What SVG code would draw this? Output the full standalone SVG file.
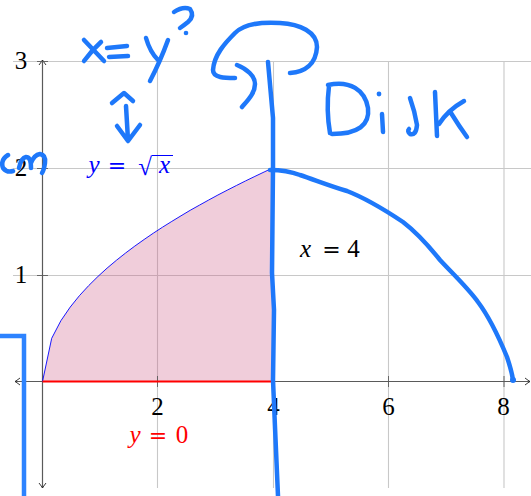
<svg xmlns="http://www.w3.org/2000/svg" width="531" height="496" viewBox="0 0 531 496">
<style>
.grid{stroke:#c8c8c8;stroke-width:1.1;fill:none}
.axis{stroke:#5a5a5a;stroke-width:1.2;fill:none}
.tick{stroke:#5a5a5a;stroke-width:0.9}
.lbl{font-family:"Liberation Serif","DejaVu Serif",serif;font-size:25px;text-anchor:middle}
.it{font-style:italic}
.eq{font-family:"DejaVu Serif","Liberation Serif",serif;font-size:22px}
.ink{stroke:#1e78fa;stroke-width:4.5;fill:none;stroke-linecap:round;stroke-linejoin:round}
</style>
<defs>
<marker id="arr" viewBox="-6 -5 7 10" refX="0" refY="0" markerWidth="7" markerHeight="10" markerUnits="userSpaceOnUse" orient="auto-start-reverse">
<path d="M-5,-3.5 Q-1.5,-0.8 0,0 Q-1.5,0.8 -5,3.5" fill="none" stroke="#222" stroke-width="0.9"/>
</marker>
</defs>
<rect width="531" height="496" fill="#fff"/>
<g id="grid">
<path class="grid" d="M13,61.5 H531 M13,168.5 H531 M13,275.5 H531 M157.5,61 V488 M273.5,61 V488 M388.5,61 V488 M504,61 V488"/>
</g>
<g id="region">
<polygon fill="#cd5884" fill-opacity="0.3" points="42.5,381.5 51.7,338.3 60.9,320.7 70.2,307.1 79.4,295.7 88.7,285.6 97.9,276.5 107.1,268.1 116.4,260.3 125.6,253 134.8,246.1 144.1,239.5 153.3,233.2 162.5,227.2 171.8,221.4 181,215.8 190.2,210.3 199.5,205.1 208.7,200 217.9,195 227.2,190.2 236.4,185.5 245.6,180.9 254.9,176.4 264.1,172 273.3,167.7 273.3,381.5"/>
</g>
<g id="axes">
<line class="axis" x1="15" y1="381.5" x2="530" y2="381.5" marker-start="url(#arr)" marker-end="url(#arr)"/>
<line class="axis" x1="42.5" y1="488" x2="42.5" y2="60" marker-start="url(#arr)" marker-end="url(#arr)"/>
<path class="tick" d="M37,61.5 H48 M37,168.5 H48 M37,275.5 H48 M157.5,376 V387 M273.5,376 V387 M388.5,376 V387 M504,376 V387"/>
</g>
<g id="ticklabels" class="lbl">
<text x="21" y="68.5">3</text>
<text x="21" y="176">2</text>
<text x="21" y="283">1</text>
<text x="157.5" y="414.5">2</text>
<text x="273.5" y="414.5">4</text>
<text x="388.5" y="414.5">6</text>
<text x="503.5" y="414.5">8</text>
</g>
<g id="curve-sqrt">
<polyline fill="none" stroke="#0000ff" stroke-width="0.9" points="42.5,381.5 51.7,338.3 60.9,320.7 70.2,307.1 79.4,295.7 88.7,285.6 97.9,276.5 107.1,268.1 116.4,260.3 125.6,253 134.8,246.1 144.1,239.5 153.3,233.2 162.5,227.2 171.8,221.4 181,215.8 190.2,210.3 199.5,205.1 208.7,200 217.9,195 227.2,190.2 236.4,185.5 245.6,180.9 254.9,176.4 264.1,172 273.3,167.7"/>
</g>
<g id="line-y0">
<line x1="42.5" y1="381.5" x2="273.5" y2="381.5" stroke="#ff0000" stroke-width="2"/>
</g>
<g id="label-sqrt" fill="#0000ff">
<text class="lbl"><tspan class="it" x="94" y="173">y</tspan><tspan class="eq" x="117" y="173">=</tspan><tspan x="145" y="175">√</tspan><tspan class="it" x="164.5" y="173">x</tspan></text>
<line x1="152" y1="155.5" x2="173" y2="155.5" stroke="#0000ff" stroke-width="1"/>
</g>
<g id="label-y0" fill="#ff0000">
<text class="lbl"><tspan class="it" x="135" y="443">y</tspan><tspan class="eq" x="158" y="443">=</tspan><tspan x="182" y="443">0</tspan></text>
</g>
<g id="label-x4" fill="#000">
<text class="lbl"><tspan class="it" x="305.5" y="257">x</tspan><tspan class="eq" x="331.5" y="257">=</tspan><tspan x="353.5" y="257">4</tspan></text>
</g>
<g id="handwriting">
<path class="ink" d="M84,40 L104,61 M84,61 Q92,50 101,42"/>
<path class="ink" d="M107,48 L127,46 M109,57 L128,56"/>
<path class="ink" d="M146,38 Q150,52 158,60 M168,40 Q160,62 150,81"/>
<path class="ink" d="M174,12 Q183,6 190,9 Q195,16 188,22 Q183,26 180,28"/>
<circle cx="186" cy="33" r="2.3" fill="#1e78fa"/>
<path class="ink" d="M112,103 L124,93 L133,101 M126,106 L128,140 M117,126 L128,141 L140,125"/>
<path class="ink" d="M8,155 Q0,160 3,168 Q7,173 13,171"/>
<path class="ink" d="M19,168 Q21,158 26,157 Q31,157 31,168 M31,163 Q34,155 40,154 Q46,155 45,163 Q44,170 42,173"/>
<path class="ink" d="M329,86 Q326,110 330,133 M328,85 C350,80 365,90 368,108 C370,125 358,134 332,134"/>
<circle cx="379" cy="94" r="2.4" fill="#1e78fa"/>
<path class="ink" d="M382,114 L383,132"/>
<path class="ink" d="M410,98 Q415,112 417,125 Q416,136 410,134 Q407,131 409,129"/>
<path class="ink" d="M435,92 L437,136 M464,101 Q448,110 439,124 M451,113 Q459,126 467,137"/>
<path class="ink" d="M290,73 C305,72 316,64 317,47 C317,32 300,24 280,23 C262,22 245,23 235,33 C225,43 214,55 213,70 C213,78 225,78 235,78"/>
<path class="ink" d="M237,65 C247,69 255,76 255,84 C255,93 248,100 242,107"/>
<path class="ink" d="M268,62 L273,118 L273,167 L272,273 L274,310 L273,380 L275,427 L278,496"/>
<path class="ink" d="M270,170 C285,170 292,172 300,175 C315,180 330,186 347,191 C365,198 385,210 403,222 C420,235 432,250 440,260 C452,273 468,288 478,302 C490,318 500,340 507,357 C510,366 512,373 513,380"/>
<circle cx="513" cy="380" r="3" fill="#1e78fa"/>
<path d="M-5,336 L24,336 L24,500" fill="none" stroke="#2d83ff" stroke-width="4.5" stroke-linejoin="miter"/>
</g>
</svg>
